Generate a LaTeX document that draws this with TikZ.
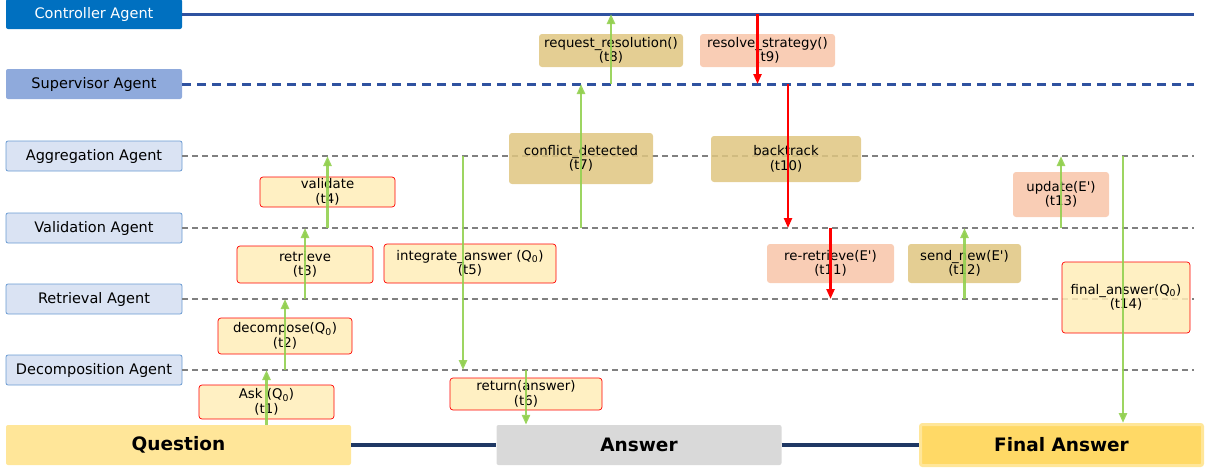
\documentclass[tikz,border=0pt]{standalone}
\usepackage{fontspec}
\setmainfont{DejaVu Sans}
\usetikzlibrary{arrows.meta}
\definecolor{ctrlfill}{HTML}{0070C0}
\definecolor{supfill}{HTML}{8FAADC}
\definecolor{lanefill}{HTML}{DAE3F3}
\definecolor{laneborder}{HTML}{6A9BD2}
\definecolor{navy}{HTML}{2F52A0}
\definecolor{darknavy}{HTML}{1F3864}
\definecolor{askfill}{HTML}{FFEDB8}
\definecolor{tanfill}{HTML}{DFC680}
\definecolor{salmon}{HTML}{F8C4A8}
\definecolor{okgreen}{HTML}{92D050}
\definecolor{qfill}{HTML}{FFE699}
\definecolor{afill}{HTML}{D9D9D9}
\definecolor{fafill}{HTML}{FFD966}

\begin{document}
\begin{tikzpicture}[x=1pt,y=-1pt,
  lane/.style={draw=laneborder,fill=lanefill,line width=0.8pt,rounded corners=2pt,
    minimum width=176pt,minimum height=30pt,font=\fontsize{14.5}{16}\selectfont},
  msg/.style={rounded corners=3pt,align=center,inner sep=1pt,
    font=\fontsize{13.3}{14.5}\selectfont,fill opacity=0.85,text opacity=1},
  call/.style={msg,draw=red,fill=askfill,line width=0.7pt},
  conflict/.style={msg,fill=tanfill},
  repair/.style={msg,fill=salmon},
  endbox/.style={rounded corners=2pt,minimum width=285pt,minimum height=40pt,
    font=\fontsize{18.5}{20}\selectfont\bfseries},
  grid/.style={draw=gray,line width=1.1pt,dash pattern=on 6pt off 4pt},
  go/.style={draw=okgreen,line width=2.6pt,opacity=0.9,-{Triangle[length=10pt,width=8pt]}},
  undo/.style={draw=red,line width=2.3pt,-{Triangle[length=10pt,width=8pt]}}]
\useasboundingbox (0,0) rectangle (1209,471);

\node[lane,draw=none,fill=ctrlfill,text=white] (Ctrl) at (94,14) {Controller Agent};
\node[lane,draw=none,fill=supfill] (Sup) at (94,84) {Supervisor Agent};
\node[lane] (Agg) at (94,156) {Aggregation Agent};
\node[lane] (Val) at (94,228) {Validation Agent};
\node[lane] (Ret) at (94,299) {Retrieval Agent};
\node[lane] (Dec) at (94,370) {Decomposition Agent};
\coordinate (End) at (1194,0);

\draw[navy,line width=3pt] (Ctrl.east) -- (Ctrl.east -| End);
\draw[navy,line width=3pt,dash pattern=on 9pt off 6pt] (Sup.east) -- (Sup.east -| End);
\draw[grid] (Agg.east) -- (Agg.east -| End);
\draw[grid] (Val.east) -- (Val.east -| End);
\draw[grid] (Ret.east) -- (Ret.east -| End);
\draw[grid] (Dec.east) -- (Dec.east -| End);

\node[endbox,fill=qfill,minimum width=345pt] (Q) at (178.5,445) {Question};
\node[endbox,fill=afill] (A) at (639,445) {Answer};
\node[endbox,fill=fafill,draw=qfill,line width=3pt,minimum width=282pt,minimum height=41pt] (FA) at (1061.5,445) {Final Answer};
\draw[darknavy,line width=3.5pt] (Q) -- (A);
\draw[darknavy,line width=3.5pt] (A) -- (FA);

\node[call,minimum width=135pt,minimum height=34pt] (T1) at (266.5,402) {Ask (Q\textsubscript{0})\\(t1)};
\node[call,minimum width=134pt,minimum height=36pt] (T2) at (285,336) {decompose(Q\textsubscript{0})\\(t2)};
\node[call,minimum width=136pt,minimum height=37pt] (T3) at (305,264.5) {retrieve\\(t3)};
\node[call,minimum width=135pt,minimum height=30pt] (T4) at (327.5,192) {validate\\(t4)};
\node[call,minimum width=172pt,minimum height=39pt] (T5) at (470,263.5) {integrate\_answer (Q\textsubscript{0})\\(t5)};
\node[call,minimum width=152pt,minimum height=32pt] (T6) at (526,394) {return(answer)\\(t6)};
\node[conflict,minimum width=144pt,minimum height=51pt] (T7) at (581,158.5) {conflict\_detected\\(t7)};
\node[conflict,minimum width=144pt,minimum height=33pt] (T8) at (611,50.5) {request\_resolution()\\(t8)};
\node[repair,minimum width=135pt,minimum height=33pt] (T9) at (767.5,50.5) {resolve\_strategy()\\(t9)};
\node[conflict,minimum width=150pt,minimum height=46pt] (T10) at (786,159) {backtrack\\(t10)};
\node[repair,minimum width=127pt,minimum height=39pt] (T11) at (830.5,263.5) {re-retrieve(E\textquotesingle)\\(t11)};
\node[conflict,minimum width=113pt,minimum height=39pt] (T12) at (964.5,263.5) {send\_new(E\textquotesingle)\\(t12)};
\node[repair,minimum width=96pt,minimum height=45pt] (T13) at (1061,194.5) {update(E\textquotesingle)\\(t13)};
\node[call,minimum width=128pt,minimum height=71pt] (T14) at (1126,297.5) {final\_answer(Q\textsubscript{0})\\(t14)};

\draw[go] (T1 |- Q.north) -- (T1 |- Dec);
\draw[go] (T2 |- Dec) -- (T2 |- Ret);
\draw[go] (T3 |- Ret) -- (T3 |- Val);
\draw[go] (T4 |- Val) -- (T4 |- Agg);
\draw[go] ([xshift=-7pt]T5 |- Agg) -- ([xshift=-7pt]T5 |- Dec);
\draw[go] (T6 |- Dec) -- (T6 |- A.north);
\draw[go] (T7 |- Val) -- (T7 |- Sup);
\draw[go] (T8 |- Sup) -- (T8 |- Ctrl);
\draw[undo] ([xshift=-10pt]T9 |- Ctrl) -- ([xshift=-10pt]T9 |- Sup);
\draw[undo] ([xshift=2pt]T10 |- Sup) -- ([xshift=2pt]T10 |- Val);
\draw[undo] (T11 |- Val) -- (T11 |- Ret);
\draw[go] (T12 |- Ret) -- (T12 |- Val);
\draw[go] (T13 |- Val) -- (T13 |- Agg);
\draw[go] ([xshift=-3pt]T14 |- Agg) -- ([xshift=-3pt]T14 |- FA.north);
\end{tikzpicture}
\end{document}
